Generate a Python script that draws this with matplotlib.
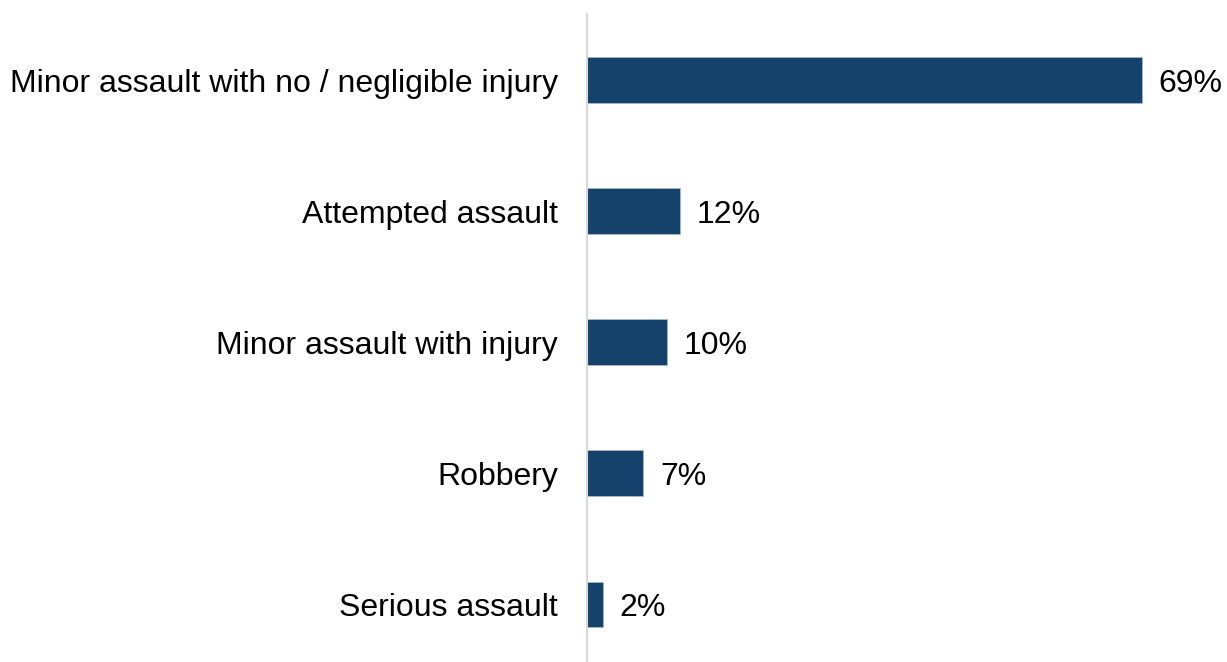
import matplotlib
matplotlib.use("Agg")
import matplotlib.pyplot as plt

categories = ["Minor assault with no / negligible injury", "Attempted assault",
              "Minor assault with injury", "Robbery", "Serious assault"]
values = [69, 11.5, 10, 7, 2]
value_labels = ["69%", "12%", "10%", "7%", "2%"]

W, H = 1227, 662
fig = plt.figure(figsize=(W / 100, H / 100), dpi=100)
plt.rcParams['font.family'] = ['Liberation Sans', 'DejaVu Sans']

ax_left, ax_right = 587, 1227
ax_top, ax_bottom = 14, 662
ax = fig.add_axes([ax_left / W, 1 - ax_bottom / H, (ax_right - ax_left) / W, (ax_bottom - ax_top) / H])

pos = list(range(len(categories)))
ax.barh(pos, values, height=0.35, color="#14426B", edgecolor="#A9B8C8", linewidth=0.6)

px_per_unit = 555 / 69
ax.set_xlim(0, (ax_right - ax_left) / px_per_unit)
spacing = 131.1
ax.set_ylim(4 + (662 - 604.5) / spacing, -(80 - 14) / spacing)

for p, v, lab in zip(pos, values, value_labels):
    ax.annotate(lab, (v, p), xytext=(12, 0), textcoords="offset points",
                va="center_baseline", ha="left", fontsize=23, color="black")

ax.set_yticks(pos)
ax.set_yticklabels(categories, fontsize=23, va="center_baseline")
ax.tick_params(axis="y", length=0, pad=21)
ax.set_xticks([])
for s in ["top", "right", "bottom"]:
    ax.spines[s].set_visible(False)
ax.spines["left"].set_color("#D9D9D9")
ax.spines["left"].set_linewidth(1.5)

fig.savefig("out.png", dpi=100)
